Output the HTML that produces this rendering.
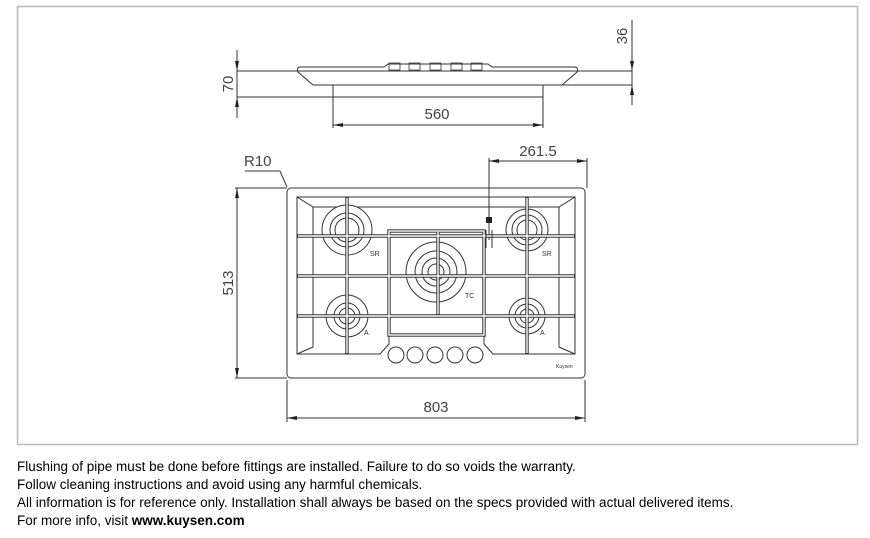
<!DOCTYPE html>
<html><head><style>
body{margin:0;background:#fff;width:870px;height:538px;overflow:hidden;font-family:"Liberation Sans",sans-serif}
.t{position:absolute;left:17px;font-size:13.5px;color:#000;line-height:18px;white-space:nowrap}
</style></head><body>
<svg width="870" height="538" style="position:absolute;left:0;top:0" font-family="Liberation Sans, sans-serif">
<rect x="17.5" y="6.5" width="840" height="438" fill="none" stroke="#bbb" stroke-width="1.5"/>
<g stroke="#333" fill="none" stroke-width="1">
<line x1="287" y1="71" x2="588" y2="71"/>
<path d="M300 67 L384 67 L388 64 L488 64 L492 67 L575 67 Q579 68 577 72 L562 85 L313 85 L298 72 Q296 68 300 67Z"/>
<rect x="333" y="85" width="210" height="12"/>
<g stroke-width="0.8"><rect x="389" y="63" width="11" height="7"/><rect x="409" y="63" width="11" height="7"/><rect x="430" y="63" width="11" height="7"/><rect x="451" y="63" width="11" height="7"/><rect x="471" y="63" width="11" height="7"/></g>
<line x1="237" y1="50" x2="237" y2="118"/><line x1="237" y1="71" x2="287" y2="71"/><line x1="237" y1="97" x2="333" y2="97"/>
<line x1="333" y1="97" x2="333" y2="128"/><line x1="543" y1="97" x2="543" y2="128"/><line x1="333" y1="125" x2="543" y2="125"/>
<line x1="632" y1="20" x2="632" y2="105"/><line x1="588" y1="71" x2="632" y2="71"/><line x1="562" y1="85" x2="632" y2="85"/>
<line x1="489" y1="158" x2="489" y2="240"/><line x1="587" y1="158" x2="587" y2="188"/><line x1="489" y1="161" x2="587" y2="161"/>
<line x1="235" y1="188" x2="287" y2="188"/><line x1="235" y1="378" x2="287" y2="378"/><line x1="237" y1="188" x2="237" y2="378"/>
<line x1="287" y1="380" x2="287" y2="422"/><line x1="585" y1="380" x2="585" y2="422"/><line x1="287" y1="418" x2="585" y2="418"/>
<polyline points="245,171 280,171 287,187"/>
<rect x="287" y="188" width="298" height="190" rx="4"/>
<path d="M297 197 L575 197 L575 354 L493 354 L484 344 L484 335 L389 335 L389 344 L380 354 L297 354Z"/>
<path d="M297 197 L313 207 L559 207 L575 197 M313 207 L313 347 L297 354 M559 207 L559 347 L575 354"/>
<g fill="#fff">
<circle cx="347" cy="230" r="25"/><circle cx="347" cy="230" r="17"/><circle cx="347" cy="230" r="12"/>
<circle cx="436" cy="272" r="30"/><circle cx="436" cy="272" r="21"/><circle cx="436" cy="272" r="14"/><circle cx="436" cy="272" r="8"/>
<circle cx="527" cy="230" r="21"/><circle cx="527" cy="230" r="15"/><circle cx="527" cy="230" r="10"/>
<circle cx="347" cy="316" r="21"/><circle cx="347" cy="316" r="13"/><circle cx="347" cy="316" r="8"/>
<circle cx="527" cy="316" r="18"/><circle cx="527" cy="316" r="12"/><circle cx="527" cy="316" r="7"/>
</g>
<g id="gr" stroke-width="3.4">
<line x1="297" y1="236" x2="575" y2="236"/><line x1="297" y1="276" x2="575" y2="276"/><line x1="297" y1="316" x2="575" y2="316"/>
<line x1="347" y1="197" x2="347" y2="354"/><line x1="527" y1="197" x2="527" y2="354"/><line x1="438" y1="231" x2="438" y2="315"/>
<rect x="389" y="231" width="95" height="104"/>
</g>
<g stroke="#fff" stroke-width="1.4">
<line x1="298" y1="236" x2="574" y2="236"/><line x1="298" y1="276" x2="574" y2="276"/><line x1="298" y1="316" x2="574" y2="316"/>
<line x1="347" y1="198" x2="347" y2="353"/><line x1="527" y1="198" x2="527" y2="353"/><line x1="438" y1="232" x2="438" y2="314"/>
<rect x="389" y="231" width="95" height="104"/>
</g>
<g><circle cx="396" cy="355" r="8"/><circle cx="415" cy="355" r="8"/><circle cx="435" cy="355" r="8"/><circle cx="455" cy="355" r="8"/><circle cx="475" cy="355" r="8"/></g>
<line x1="486" y1="230" x2="486" y2="248"/><line x1="492" y1="230" x2="492" y2="248"/>
</g>
<rect x="486" y="217" width="6" height="6" fill="#222"/>
<g fill="#222">
<path d="M333 125 l10 -2 v4z M543 125 l-10 -2 v4z M489 161 l10 -2 v4z M587 161 l-10 -2 v4z M287 418 l10 -2 v4z M585 418 l-10 -2 v4z M237 188 l-2 10 h4z M237 378 l-2 -10 h4z M632 71 l-2 -10 h4z M632 85 l-2 10 h4z M237 71 l-2 -10 h4z M237 97 l-2 10 h4z"/></g>
<g fill="#444" font-size="15">
<text x="437" y="119" text-anchor="middle">560</text>
<text x="538" y="156" text-anchor="middle">261.5</text>
<text x="436" y="412" text-anchor="middle">803</text>
<text x="244" y="166">R10</text>
<text transform="translate(233,84) rotate(-90)" text-anchor="middle">70</text>
<text transform="translate(627,36) rotate(-90)" text-anchor="middle">36</text>
<text transform="translate(233,283) rotate(-90)" text-anchor="middle">513</text>
</g>
<g fill="#333" font-size="7"><text x="370" y="256">SR</text><text x="542" y="256">SR</text><text x="465" y="298">TC</text><text x="364" y="335">A</text><text x="540" y="335">A</text><text x="556" y="368" font-size="5">Kuysen</text></g>
</svg>
<div class="t" style="top:458px">Flushing of pipe must be done before fittings are installed. Failure to do so voids the warranty.</div>
<div class="t" style="top:476px">Follow cleaning instructions and avoid using any harmful chemicals.</div>
<div class="t" style="top:494px">All information is for reference only. Installation shall always be based on the specs provided with actual delivered items.</div>
<div class="t" style="top:512px">For more info, visit <b>www.kuysen.com</b></div>
</body></html>
